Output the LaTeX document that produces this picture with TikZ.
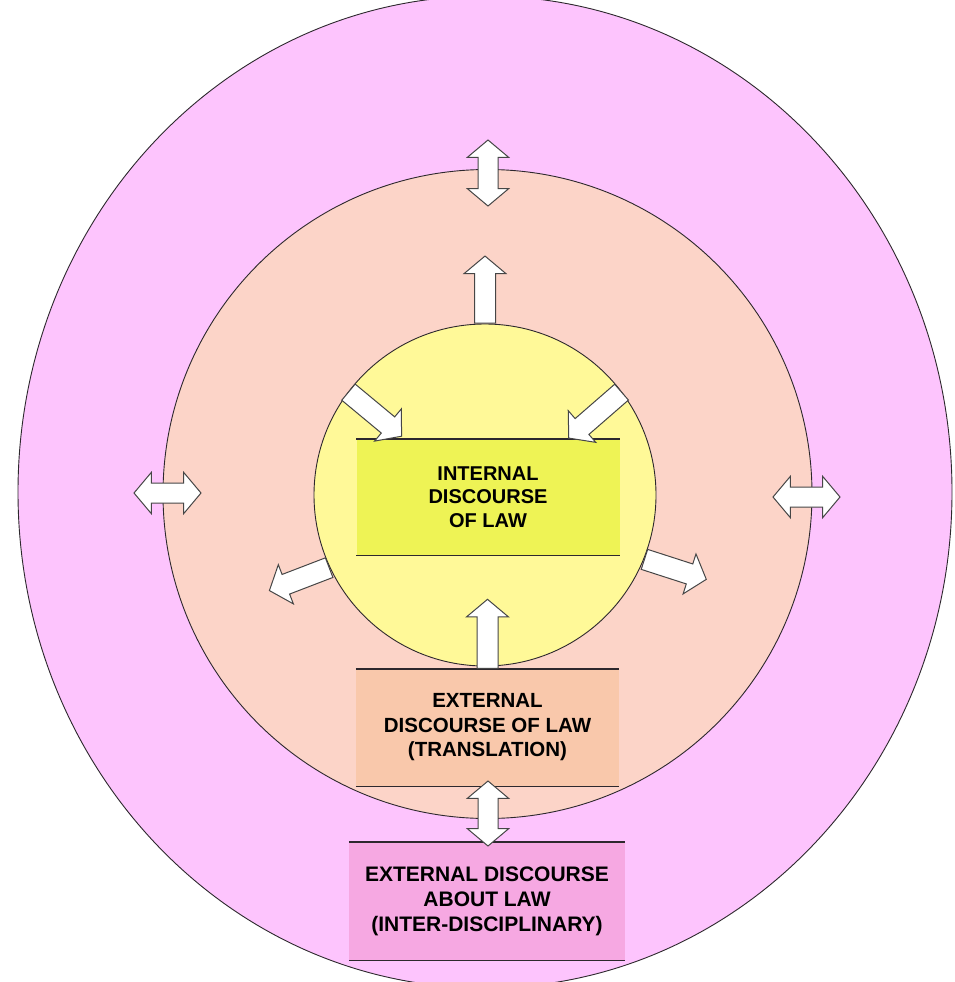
\documentclass[tikz,border=0pt]{standalone}
\usepackage{fontspec}
\setmainfont{Liberation Sans}
\usetikzlibrary{shapes.arrows,shapes.geometric}
\definecolor{outerc}{RGB}{253,196,253}
\definecolor{midc}{RGB}{252,212,200}
\definecolor{innerc}{RGB}{255,249,152}
\definecolor{yelbox}{RGB}{238,243,85}
\definecolor{peachbox}{RGB}{249,200,171}
\definecolor{pinkbox}{RGB}{246,168,226}
\definecolor{edge}{RGB}{45,40,45}
\definecolor{arrline}{RGB}{70,70,70}
\begin{document}
\begin{tikzpicture}[x=1pt,y=-1pt,
  ring/.style={draw=edge, line width=0.9pt, inner sep=0pt},
  textbox/.style={rectangle, inner sep=0pt, align=center, text=black},
  rule/.style={draw=edge, line width=1.4pt},
  sarr/.style={single arrow, draw=arrline, fill=white, line width=1pt,
    inner xsep=0pt, inner ysep=10pt, single arrow head extend=10.5pt,
    single arrow tip angle=100, minimum width=41pt, anchor=tail},
  darr/.style={double arrow, draw=arrline, fill=white, line width=1pt,
    inner xsep=0pt, inner ysep=9.5pt, double arrow head extend=10.75pt,
    double arrow tip angle=100, minimum width=40pt}]
\useasboundingbox (0,0) rectangle (955,982);
\clip (0,0) rectangle (955,982);
\fill[white] (0,0) rectangle (955,982);
% rings
\node[ellipse, ring, fill=outerc, minimum width=934pt, minimum height=992pt] (outer) at (485,492) {};
\node[circle, ring, fill=midc, minimum size=649pt] (mid) at (487.5,494) {};
\node[circle, ring, fill=innerc, minimum size=342pt] (inner) at (485,495) {};
% boxes
\node[textbox, fill=yelbox, minimum width=263pt, minimum height=116pt,
  font=\bfseries\fontsize{20}{23.5}\selectfont] (internal) at (488,497)
  {INTERNAL\\DISCOURSE\\OF LAW};
\draw[rule] (internal.north west) -- (internal.north east);
\draw[rule] (internal.south west) -- (internal.south east);
\node[textbox, fill=peachbox, minimum width=263pt, minimum height=117pt,
  font=\bfseries\fontsize{20.5}{24.5}\selectfont] (extof) at (487.5,727.5)
  {EXTERNAL\\DISCOURSE OF LAW\\(TRANSLATION)};
\draw[rule] (extof.north west) -- (extof.north east);
\draw[rule] (extof.south west) -- (extof.south east);
\node[textbox, fill=pinkbox, minimum width=276pt, minimum height=118pt,
  font=\bfseries\fontsize{21}{25}\selectfont] (extabout) at (487,901)
  {EXTERNAL DISCOURSE\\ABOUT LAW\\(INTER-DISCIPLINARY)};
\draw[rule] (extabout.north west) -- (extabout.north east);
\draw[rule] (extabout.south west) -- (extabout.south east);
% arrows
\node[darr, minimum height=66pt, rotate=90] (dtop) at (488,173) {};
\node[darr, minimum height=67pt] (dleft) at (167.5,493) {};
\node[darr, minimum height=67pt] (dright) at (806.5,497) {};
\node[darr, minimum height=65pt, rotate=90] (dbot) at (488,813.5) {};
\node[sarr, minimum height=67pt, rotate=90] (sup1) at (inner.north) {};
\node[sarr, minimum height=69pt, rotate=90] (sup2) at (extof.north) {};
\node[sarr, minimum height=69pt, rotate=-39.7] (sinl) at (inner.143) {};
\node[sarr, minimum height=70pt, rotate=-139] (sinr) at (inner.37) {};
\node[sarr, minimum height=64pt, rotate=201] (soutl) at (inner.205) {};
\node[sarr, minimum height=65pt, rotate=-17.9] (soutr) at (inner.338) {};
\end{tikzpicture}
\end{document}
